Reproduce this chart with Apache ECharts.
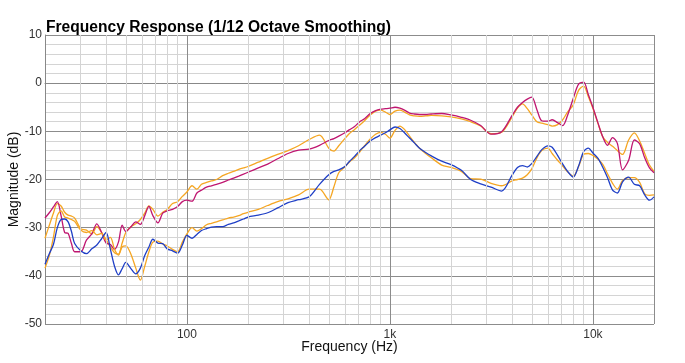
<!DOCTYPE html>
<html><head><meta charset="utf-8">
<script src="https://cdn.jsdelivr.net/npm/echarts@6/dist/echarts.min.js"></script>
<style>html,body{margin:0;padding:0;background:#fff}#c{width:685px;height:363px}</style>
</head><body><div id="c"></div>
<script>
const freqs = [20,21,22,23,24,25,26,27,28,30,32,34,36,38,40,42,44,46,48,50,53,56,59,62,65,68,72,76,80,85,90,95,
  100,106,112,118,125,132,140,150,160,170,180,190,200,225,250,280,315,355,400,450,500,530,560,600,630,670,710,750,800,850,900,950,
  1000,1060,1120,1180,1250,1320,1400,1500,1600,1800,2000,2250,2500,2800,3150,3550,4000,4250,4500,4750,5000,5300,5600,6000,6300,6700,7100,7500,8000,8500,9000,9500,
  10000,10600,11200,11800,12500,13200,14000,15000,16000,17000,18000,19000,20000];

const magentaDb = [-28.0,-26.9,-25.7,-24.6,-27.5,-31.0,-31.2,-33.3,-35.0,-35.0,-32.6,-31.3,-29.2,-31.0,-33.2,-33.5,-34.5,-33.0,-29.5,-30.8,-29.8,-28.8,-29.3,-27.5,-25.6,-27.5,-29.0,-27.0,-26.5,-26.2,-25.6,-24.6,
  -24.3,-24.5,-22.8,-22.2,-21.6,-21.3,-21.0,-20.6,-20.1,-19.7,-19.3,-18.9,-18.5,-17.6,-16.8,-15.7,-14.6,-13.9,-13.7,-12.9,-11.9,-11.5,-11.0,-10.3,-9.7,-9.0,-8.0,-7.4,-6.3,-5.7,-5.4,-5.3,
  -5.2,-5.0,-5.2,-5.6,-6.2,-6.4,-6.5,-6.5,-6.4,-6.3,-6.6,-7.1,-7.7,-8.8,-10.6,-10.1,-6.7,-5.0,-4.0,-3.3,-2.9,-5.5,-7.8,-7.9,-7.6,-8.2,-8.8,-6.7,-3.2,-0.2,0.2,-2.4,
  -5.0,-8.3,-11.2,-12.9,-11.3,-12.5,-18.0,-16.0,-11.8,-12.6,-15.5,-17.6,-18.6];

const orangeHiDb = [-32.2,-29.5,-27.0,-25.0,-25.5,-26.8,-27.4,-27.6,-28.0,-30.2,-30.5,-31.3,-29.8,-31.0,-32.5,-34.0,-35.2,-35.5,-33.2,-31.0,-29.8,-29.2,-28.3,-27.0,-25.5,-26.2,-27.6,-26.8,-26.2,-25.0,-24.6,-23.5,
  -22.6,-21.3,-22.0,-21.0,-20.6,-20.3,-20.0,-19.2,-18.7,-18.3,-17.9,-17.6,-17.3,-16.4,-15.6,-14.8,-14.0,-13.0,-11.7,-10.8,-13.5,-14.1,-13.0,-11.5,-10.5,-9.6,-8.7,-7.8,-6.6,-5.8,-5.6,-6.0,
  -6.5,-5.8,-5.6,-6.0,-6.6,-6.8,-6.9,-6.8,-6.7,-6.8,-7.0,-7.4,-8.0,-8.9,-10.5,-10.2,-7.0,-5.2,-4.3,-5.3,-6.6,-8.0,-8.3,-8.6,-8.9,-8.6,-7.6,-6.0,-4.5,-1.5,-0.6,-2.8,
  -5.2,-8.4,-11.2,-12.3,-13.1,-14.0,-14.8,-11.8,-10.3,-12.0,-14.6,-17.0,-18.3];

const blueDb = [-37.6,-35.4,-33.5,-30.0,-28.3,-28.2,-28.8,-30.8,-33.3,-34.8,-35.4,-34.4,-33.6,-32.3,-31.0,-34.5,-38.0,-39.8,-38.5,-37.2,-38.5,-39.6,-38.4,-35.8,-34.0,-32.4,-33.2,-33.3,-34.4,-34.8,-35.3,-33.6,
  -31.6,-32.2,-31.4,-30.6,-30.2,-29.9,-29.8,-29.8,-29.3,-29.0,-28.6,-28.2,-27.8,-27.4,-26.9,-25.9,-24.8,-24.2,-23.6,-21.0,-19.0,-18.3,-18.0,-17.3,-16.3,-15.2,-14.0,-13.1,-12.0,-11.3,-10.8,-10.3,
  -9.7,-9.1,-9.4,-10.3,-11.4,-12.4,-13.5,-14.4,-15.1,-16.2,-16.9,-18.1,-20.0,-20.9,-21.6,-22.4,-19.1,-17.5,-17.1,-17.4,-16.7,-15.2,-13.8,-13.0,-13.3,-15.0,-16.8,-18.3,-19.5,-17.2,-14.2,-13.5,
  -14.5,-15.6,-17.5,-19.6,-22.2,-22.8,-20.5,-19.5,-21.0,-21.3,-23.2,-24.3,-23.6];

const orangeLoDb = [-38.4,-35.8,-32.0,-27.5,-26.5,-27.8,-28.0,-28.3,-28.7,-30.5,-31.0,-30.6,-31.5,-31.2,-32.6,-32.0,-34.5,-35.7,-34.0,-33.8,-35.5,-38.4,-40.9,-38.0,-35.0,-33.0,-32.8,-33.4,-33.8,-34.5,-35.0,-33.0,
  -31.3,-30.0,-30.7,-30.2,-29.4,-29.1,-28.8,-28.4,-28.0,-27.8,-27.5,-27.1,-26.8,-26.2,-25.4,-24.6,-24.0,-23.2,-22.0,-22.0,-24.2,-21.5,-18.6,-17.4,-16.4,-15.5,-14.3,-13.0,-11.6,-10.6,-10.2,-10.6,
  -11.4,-9.8,-8.9,-9.6,-11.0,-12.3,-13.5,-14.6,-15.5,-17.0,-17.5,-18.3,-19.8,-19.9,-20.8,-21.3,-20.3,-20.0,-19.7,-19.0,-17.8,-15.5,-14.0,-13.5,-14.6,-16.0,-17.2,-18.4,-19.3,-17.3,-14.8,-14.6,
  -15.0,-15.8,-16.9,-18.8,-20.8,-22.0,-20.2,-19.6,-19.6,-20.6,-23.0,-23.3,-23.2];

const minorFreqs = [30,40,50,60,70,80,90,200,300,400,500,600,700,800,900,2000,3000,4000,5000,6000,7000,8000,9000];
const xTickLabels = {100: '100', 1000: '1k', 10000: '10k'};

const FONT = "'Liberation Sans', Arial, Helvetica, sans-serif";
const pairs = arr => freqs.map((f, i) => [f, arr[i]]);
const lineSeries = (name, arr, color) => ({
  name, type: 'line', data: pairs(arr), showSymbol: false, symbol: 'none',
  smooth: 0.3, lineStyle: {color, width: 1.3}, itemStyle: {color}, z: 3, silent: true
});

const chart = echarts.init(document.getElementById('c'), null, {renderer: 'canvas'});
chart.setOption({
  animation: false,
  backgroundColor: '#fff',
  title: {
    text: 'Frequency Response (1/12 Octave Smoothing)',
    left: 46, top: 20, padding: 0,
    textStyle: {fontFamily: FONT, fontSize: 15.6, fontWeight: 'bold', color: '#000'}
  },
  grid: {left: 45, right: 31, top: 35, bottom: 39, show: false, containLabel: false, outerBoundsMode: 'none'},
  xAxis: {
    type: 'log', logBase: 10, min: 20, max: 20000,
    name: 'Frequency (Hz)', nameLocation: 'middle', nameGap: 16, nameMoveOverlap: false,
    nameTextStyle: {fontFamily: FONT, fontSize: 14, color: '#111'},
    axisLine: {show: true, lineStyle: {color: '#888', width: 1}},
    axisTick: {show: false},
    axisLabel: {
      fontFamily: FONT, fontSize: 12, color: '#333', margin: 5,
      formatter: v => xTickLabels[Math.round(v)] || ''
    },
    splitLine: {show: true, lineStyle: {color: '#8c8c8c', width: 1}}
  },
  yAxis: {
    type: 'value', min: -50, max: 10, interval: 10,
    name: 'Magnitude (dB)', nameLocation: 'middle', nameGap: 24, nameRotate: 90, nameMoveOverlap: false,
    nameTextStyle: {fontFamily: FONT, fontSize: 14, color: '#111'},
    axisLine: {show: true, lineStyle: {color: '#888', width: 1}},
    axisTick: {show: false},
    axisLabel: {fontFamily: FONT, fontSize: 12, color: '#333', margin: 3},
    splitLine: {show: true, lineStyle: {color: '#8c8c8c', width: 1}},
    minorTick: {show: false, splitNumber: 5},
    minorSplitLine: {show: true, lineStyle: {color: '#d4d4d4', width: 1}}
  },
  series: [
    {
      name: 'grid', type: 'line', data: [], z: 1, silent: true,
      markLine: {
        silent: true, symbol: 'none', animation: false,
        label: {show: false},
        lineStyle: {color: '#d4d4d4', width: 1, type: 'solid'},
        data: minorFreqs.map(f => ({xAxis: f}))
      }
    },
    lineSeries('upper orange', orangeHiDb, '#f5a623'),
    lineSeries('upper magenta', magentaDb, '#bf1670'),
    lineSeries('lower orange', orangeLoDb, '#f5a623'),
    lineSeries('lower blue', blueDb, '#1f3fc6')
  ]
});
</script>
</body></html>
